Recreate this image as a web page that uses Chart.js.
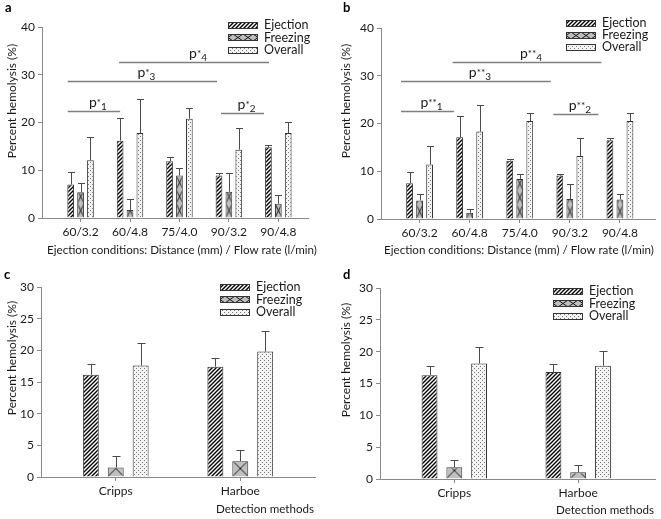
<!DOCTYPE html>
<html>
<head>
<meta charset="utf-8">
<title>Percent hemolysis</title>
<script src="https://cdn.jsdelivr.net/npm/chart.js@4.4.1/dist/chart.umd.min.js"></script>
<style>
  html, body { margin: 0; padding: 0; background: #fff; }
  #wrap { position: relative; width: 661px; height: 519px; }
  .panel { position: absolute; }
</style>
</head>
<body>
<div id="wrap">
  <canvas class="panel" id="chart-a" width="330" height="260" style="left:0;top:0"></canvas>
  <canvas class="panel" id="chart-b" width="331" height="260" style="left:330px;top:0"></canvas>
  <canvas class="panel" id="chart-c" width="330" height="259" style="left:0;top:260px"></canvas>
  <canvas class="panel" id="chart-d" width="331" height="259" style="left:330px;top:260px"></canvas>
</div>
<script>
var conditions = ['60/3.2', '60/4.8', '75/4.0', '90/3.2', '90/4.8'];
var methods = ['Cripps', 'Harboe'];
var seriesNames = ['Ejection', 'Freezing', 'Overall'];

// a - ejection conditions, first set
var aEjection = [7.0, 16.2, 11.9, 8.9, 14.8];
var aEjectionErr = [2.6, 4.8, 0.8, 0.6, 0.4];
var aFreezing = [5.4, 1.7, 8.9, 5.5, 3.0];
var aFreezingErr = [2.0, 2.3, 1.5, 3.9, 1.9];
var aOverall = [12.1, 17.8, 20.8, 14.3, 17.8];
var aOverallErr = [4.9, 7.2, 2.3, 4.6, 2.4];

// b - ejection conditions, second set
var bEjection = [7.5, 17.1, 12.2, 9.1, 16.5];
var bEjectionErr = [2.4, 4.4, 0.4, 0.3, 0.4];
var bFreezing = [3.9, 1.3, 8.4, 4.2, 4.1];
var bFreezingErr = [1.4, 0.8, 1.1, 3.1, 1.2];
var bOverall = [11.4, 18.3, 20.5, 13.2, 20.5];
var bOverallErr = [3.8, 5.5, 1.6, 3.7, 1.8];

// c, d - detection methods
var cEjection = [16.15, 17.4];
var cEjectionErr = [1.65, 1.4];
var cFreezing = [1.5, 2.5];
var cFreezingErr = [1.85, 1.7];
var cOverall = [17.6, 19.8];
var cOverallErr = [3.6, 3.3];

var dEjection = [16.3, 16.8];
var dEjectionErr = [1.4, 1.2];
var dFreezing = [1.85, 1.05];
var dFreezingErr = [1.15, 1.1];
var dOverall = [18.15, 17.8];
var dOverallErr = [2.55, 2.3];

var yTicksA = [0, 10, 20, 30, 40];
var yTicksC = [0, 5, 10, 15, 20, 25, 30];

// significance bars: [from, to] in category units, height in %
var aSig = [
  { from: -0.26, to: 0.8, y: 22.4, stars: '*', sub: '1' },
  { from: -0.26, to: 2.76, y: 28.7, stars: '*', sub: '3' },
  { from: 0.78, to: 3.81, y: 32.7, stars: '*', sub: '4' },
  { from: 2.84, to: 3.71, y: 21.9, stars: '*', sub: '2' }
];
var bSig = [
  { from: -0.37, to: 0.69, y: 22.6, stars: '**', sub: '1' },
  { from: -0.37, to: 2.62, y: 29.0, stars: '**', sub: '3' },
  { from: 0.66, to: 3.63, y: 32.9, stars: '**', sub: '4' },
  { from: 2.67, to: 3.57, y: 22.0, stars: '**', sub: '2' }
];

var FONT = 'Lato, "Open Sans", sans-serif';
var INK = '#1a1a1a';
var AXIS = '#8a8a8a';
var panels = {};

function hatchPattern(ctx) {
  var c = document.createElement('canvas');
  c.width = 4; c.height = 4;
  var g = c.getContext('2d');
  g.fillStyle = '#fff';
  g.fillRect(0, 0, 4, 4);
  g.strokeStyle = '#000';
  g.lineWidth = 1.4;
  g.beginPath();
  g.moveTo(-1, 5); g.lineTo(5, -1);
  g.moveTo(-1, 1); g.lineTo(1, -1);
  g.moveTo(3, 5); g.lineTo(5, 3);
  g.stroke();
  return ctx.createPattern(c, 'repeat');
}

function dotPattern(ctx) {
  var c = document.createElement('canvas');
  c.width = 4; c.height = 4;
  var g = c.getContext('2d');
  g.fillStyle = '#f3f3f3';
  g.fillRect(0, 0, 4, 4);
  g.fillStyle = '#7a7a7a';
  g.fillRect(0, 0, 1, 1);
  g.fillRect(2, 2, 1, 1);
  return ctx.createPattern(c, 'repeat');
}

function crossPattern(ctx, w, h, x0, y0) {
  var c = document.createElement('canvas');
  c.width = w; c.height = h;
  var g = c.getContext('2d');
  g.fillStyle = '#bfbfbf';
  g.fillRect(0, 0, w, h);
  g.strokeStyle = '#1a1a1a';
  g.lineWidth = 1;
  g.beginPath();
  g.moveTo(0, 0); g.lineTo(w, h);
  g.moveTo(w, 0); g.lineTo(0, h);
  g.stroke();
  var p = ctx.createPattern(c, 'repeat');
  p.setTransform(new DOMMatrix([1, 0, 0, 1, x0, y0]));
  return p;
}

function drawSigLabel(g, x, y, stars, sub) {
  g.textBaseline = 'alphabetic';
  g.textAlign = 'left';
  g.font = '14px ' + FONT;
  var wp = g.measureText('p').width;
  g.font = '10px ' + FONT;
  var ws = g.measureText(stars).width;
  g.font = '10px ' + FONT;
  var wsub = g.measureText(sub).width;
  var x0 = x - (wp + ws + wsub) / 2;
  g.font = '14px ' + FONT;
  g.fillText('p', x0, y);
  g.font = '10px ' + FONT;
  g.fillText(stars, x0 + wp, y - 1);
  g.fillText(sub, x0 + wp + ws, y + 3);
}

var decor = {
  id: 'decor',
  beforeDatasetsDraw: function (chart) {
    chart.data.datasets.forEach(function (ds, k) {
      if (!ds.crossH) return;
      chart.getDatasetMeta(k).data.forEach(function (bar) {
        var w = Math.max(2, Math.round(bar.width));
        bar.options = Object.assign({}, bar.options, {
          backgroundColor: crossPattern(chart.ctx, w, ds.crossH, bar.x - bar.width / 2, bar.base)
        });
      });
    });
  },
  afterDatasetsDraw: function (chart) {
    var p = panels[chart.canvas.id];
    var ys = chart.scales.y;
    var g = chart.ctx;
    g.save();
    g.strokeStyle = '#4a4a4a';
    g.lineWidth = 1;
    chart.data.datasets.forEach(function (ds, k) {
      chart.getDatasetMeta(k).data.forEach(function (bar, i) {
        var top = Math.round(ys.getPixelForValue(ds.data[i].y + ds.errors[i])) + 0.5;
        var x = Math.round(bar.x) + 0.5;
        g.beginPath();
        g.moveTo(x, bar.y);
        g.lineTo(x, top);
        g.moveTo(x - p.cap, top);
        g.lineTo(x + p.cap, top);
        g.stroke();
      });
    });
    g.restore();
  },
  afterDraw: function (chart) {
    var p = panels[chart.canvas.id];
    var g = chart.ctx;
    var xs = chart.scales.x, ys = chart.scales.y;
    g.save();
    g.fillStyle = '#000';
    g.font = 'bold 13px ' + FONT;
    g.textBaseline = 'middle';
    g.textAlign = 'left';
    g.fillText(p.letter, p.letterPos[0], p.letterPos[1]);

    g.fillStyle = INK;
    g.font = '11.6px ' + FONT;
    g.textAlign = p.xTitleAlign;
    g.fillText(p.xTitle, p.xTitlePos[0], p.xTitlePos[1]);

    g.save();
    g.translate(p.yTitlePos[0], p.yTitlePos[1]);
    g.rotate(-Math.PI / 2);
    g.textAlign = 'center';
    g.font = '12px ' + FONT;
    g.fillText('Percent hemolysis (%)', 0, 0);
    g.restore();

    // legend
    var lg = p.legend;
    chart.data.datasets.forEach(function (ds, k) {
      var cy = lg.y + k * lg.step;
      var bx = lg.x, by = Math.round(cy - 3.5);
      g.fillStyle = ds.crossH ? crossPattern(g, 10, 7, bx + 5, by) : ds.backgroundColor;
      g.fillRect(bx, by, lg.w, 7);
      g.strokeStyle = '#333';
      g.lineWidth = 1;
      g.strokeRect(bx + 0.5, by + 0.5, lg.w - 1, 6);
      g.fillStyle = INK;
      g.font = '12.5px ' + FONT;
      g.textAlign = 'left';
      g.textBaseline = 'middle';
      g.fillText(ds.label, bx + lg.w + 6, cy);
    });

    // significance bars
    (p.sig || []).forEach(function (s) {
      var x1 = xs.getPixelForValue(s.from), x2 = xs.getPixelForValue(s.to);
      var y = Math.round(ys.getPixelForValue(s.y)) + 0.5;
      g.strokeStyle = '#7f7f7f';
      g.lineWidth = 1.4;
      g.beginPath();
      g.moveTo(x1, y);
      g.lineTo(x2, y);
      g.stroke();
      g.fillStyle = INK;
      drawSigLabel(g, (x1 + x2) / 2 + 4, y - 5, s.stars, s.sub);
    });
    g.restore();
  }
};

function buildChart(p) {
  panels[p.id] = p;
  var canvas = document.getElementById(p.id);
  var ctx = canvas.getContext('2d');
  var fills = [hatchPattern(ctx), '#bfbfbf', dotPattern(ctx)];
  var datasets = p.series.map(function (vals, k) {
    return {
      label: seriesNames[k],
      data: vals.map(function (v, i) { return { x: i, y: v }; }),
      errors: p.errors[k],
      backgroundColor: fills[k],
      borderColor: '#333',
      borderWidth: 1,
      crossH: k === 1 ? p.crossH : 0,
      categoryPercentage: p.catPct,
      barPercentage: p.barPct
    };
  });
  var yTicks = p.yTicks;
  return new Chart(ctx, {
    type: 'bar',
    data: { datasets: datasets },
    options: {
      responsive: false,
      animation: false,
      events: [],
      layout: {
        padding: {
          left: p.area.left - 30,
          right: canvas.width - p.area.right,
          top: p.area.top,
          bottom: canvas.height - p.area.bottom - 30
        }
      },
      plugins: { legend: { display: false }, tooltip: { enabled: false } },
      scales: {
        x: {
          type: 'linear',
          min: p.xMin,
          max: p.xMax,
          offset: false,
          grid: { display: true, offset: false, drawOnChartArea: false, drawTicks: true, tickLength: 4, color: AXIS },
          border: { display: true, color: AXIS, width: 1 },
          ticks: {
            stepSize: 1,
            includeBounds: false,
            autoSkip: false,
            maxRotation: 0,
            padding: 3,
            color: INK,
            font: { family: FONT, size: 12 },
            callback: function (v) { return p.categories[v] !== undefined ? p.categories[v] : ''; }
          },
          afterFit: function (s) { s.height = 30; }
        },
        y: {
          min: yTicks[0],
          max: yTicks[yTicks.length - 1],
          grid: { display: true, drawOnChartArea: false, drawTicks: true, tickLength: 4, color: AXIS },
          border: { display: true, color: AXIS, width: 1 },
          ticks: {
            stepSize: yTicks[1] - yTicks[0],
            padding: 3,
            color: INK,
            font: { family: FONT, size: 12 }
          },
          afterFit: function (s) { s.width = 30; }
        }
      }
    },
    plugins: [decor]
  });
}

buildChart({
  id: 'chart-a', letter: 'a', letterPos: [5, 8],
  categories: conditions,
  series: [aEjection, aFreezing, aOverall],
  errors: [aEjectionErr, aFreezingErr, aOverallErr],
  yTicks: yTicksA,
  area: { left: 42, right: 308, top: 27, bottom: 218 },
  xMin: -0.78, xMax: 4.6,
  catPct: 0.6, barPct: 0.68, crossH: 14, cap: 3.5,
  xTitle: 'Ejection conditions: Distance (mm) / Flow rate (l/min)', xTitlePos: [182, 250], xTitleAlign: 'center',
  yTitlePos: [12, 101],
  legend: { x: 228, y: 25, step: 12.5, w: 30 },
  sig: aSig
});

buildChart({
  id: 'chart-b', letter: 'b', letterPos: [13, 8],
  categories: conditions,
  series: [bEjection, bFreezing, bOverall],
  errors: [bEjectionErr, bFreezingErr, bOverallErr],
  yTicks: yTicksA,
  area: { left: 51, right: 325, top: 28, bottom: 219 },
  xMin: -0.77, xMax: 4.7,
  catPct: 0.6, barPct: 0.68, crossH: 14, cap: 3.5,
  xTitle: 'Ejection conditions: Distance (mm) / Flow rate (l/min)', xTitlePos: [189, 250], xTitleAlign: 'center',
  yTitlePos: [16, 101],
  legend: { x: 236, y: 23, step: 12, w: 30 },
  sig: bSig
});

buildChart({
  id: 'chart-c', letter: 'c', letterPos: [4, 15],
  categories: methods,
  series: [cEjection, cFreezing, cOverall],
  errors: [cEjectionErr, cFreezingErr, cOverallErr],
  yTicks: yTicksC,
  area: { left: 41, right: 315, top: 27, bottom: 217 },
  xMin: -0.6, xMax: 1.6,
  catPct: 0.6, barPct: 0.64, crossH: 16, cap: 4,
  xTitle: 'Detection methods', xTitlePos: [314, 249], xTitleAlign: 'right',
  yTitlePos: [12, 98],
  legend: { x: 220, y: 27, step: 12.5, w: 30 }
});

buildChart({
  id: 'chart-d', letter: 'd', letterPos: [13, 15],
  categories: methods,
  series: [dEjection, dFreezing, dOverall],
  errors: [dEjectionErr, dFreezingErr, dOverallErr],
  yTicks: yTicksC,
  area: { left: 50, right: 325, top: 28, bottom: 219 },
  xMin: -0.6, xMax: 1.62,
  catPct: 0.6, barPct: 0.64, crossH: 16, cap: 4,
  xTitle: 'Detection methods', xTitlePos: [324, 250], xTitleAlign: 'right',
  yTitlePos: [16, 100],
  legend: { x: 223, y: 31, step: 12.5, w: 30 }
});
</script>
</body>
</html>
